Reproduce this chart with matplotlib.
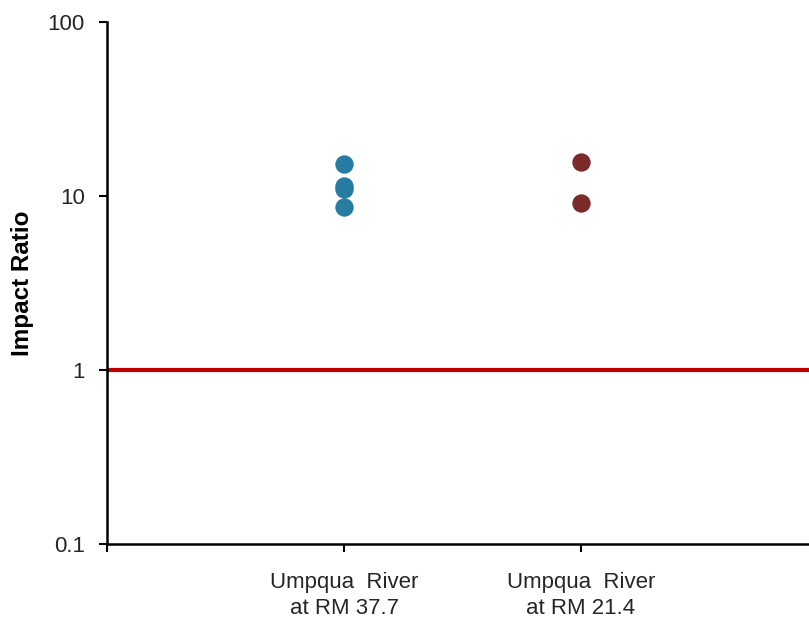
import matplotlib
matplotlib.use("Agg")
import matplotlib.pyplot as plt

plt.rcParams['font.family'] = ['Liberation Sans', 'DejaVu Sans']

categories = ["Umpqua  River\nat RM 37.7", "Umpqua  River\nat RM 21.4"]
site1_values = [15.3, 11.4, 11.0, 8.6]
site2_values = [15.7, 9.1]
reference_value = 1.0
colors = ["#277da1", "#7b2b2b"]
y_ticks = [0.1, 1, 10, 100]
y_tick_labels = ["0.1", "1", "10", "100"]

fig = plt.figure(figsize=(8.09, 6.17), dpi=100)
ax = fig.add_axes([107/809, 1-544/617, 1-107/809, (544-22)/617])

ax.set_yscale('log')

ax.plot([0, 3], [reference_value, reference_value], color="#c00000", lw=3, zorder=2)

for i, vals in enumerate([site1_values, site2_values]):
    ax.scatter([i+1]*len(vals), vals, s=175, color=colors[i], zorder=3, linewidths=0)

ax.set_yticks(y_ticks)
ax.set_yticklabels(y_tick_labels)
ax.yaxis.set_minor_locator(matplotlib.ticker.NullLocator())
ax.set_xticks([0, 1, 2, 3])
ax.set_xticklabels([""] + categories + [""])
for lab in ax.get_xticklabels():
    lab.set_linespacing(1.3)

ax.set_ylim(0.1, 100)
xmax = (809-107)/237
ax.set_xlim(0, xmax)

ax.tick_params(axis='both', labelsize=16, colors='black', width=1.5, length=6, direction='out')
ax.tick_params(axis='x', pad=14)
ax.tick_params(axis='y', pad=10)
for lab in ax.get_xticklabels() + ax.get_yticklabels():
    lab.set_color('#262626')

for s in ['top', 'right']:
    ax.spines[s].set_visible(False)
for s in ['left', 'bottom']:
    ax.spines[s].set_linewidth(1.8)

ax.set_ylabel("Impact Ratio", fontsize=17.5, fontweight='bold')
ax.yaxis.set_label_coords(-(107-23)/702, 0.5)
ax.yaxis.label.set_verticalalignment('center')
ax.yaxis.label.set_horizontalalignment('center')
ax.set_ylim(0.1, 100)

fig.savefig("out.png", dpi=100)
